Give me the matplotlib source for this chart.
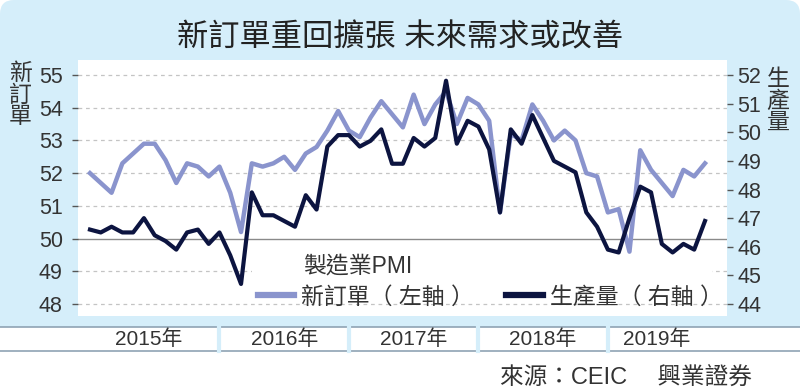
import matplotlib.pyplot as plt
import matplotlib.transforms as mtransforms
from matplotlib.patches import FancyBboxPatch, Rectangle
from matplotlib.lines import Line2D
import pandas as pd

plt.rcParams['font.family'] = ['Liberation Sans', 'Noto Sans CJK TC', 'DejaVu Sans']

# monthly data, Dec 2014 - Sep 2019
months = pd.date_range('2014-12-01', periods=58, freq='MS')
year_labels = ['2015年', '2016年', '2017年', '2018年', '2019年']

# light line, left axis
new_orders = [52.0,
              51.7, 51.4, 52.3, 52.6, 52.9, 52.9, 52.4, 51.7, 52.3, 52.2, 51.9, 52.2,
              51.4, 50.2, 52.3, 52.2, 52.3, 52.5, 52.1, 52.6, 52.8, 53.3, 53.9, 53.3,
              53.1, 53.7, 54.2, 53.8, 53.4, 54.4, 53.5, 54.1, 54.5, 53.5, 54.3, 54.1,
              53.6, 50.8, 53.2, 53.0, 54.1, 53.6, 53.0, 53.3, 53.0, 52.0, 51.9, 50.8,
              50.9, 49.6, 52.7, 52.1, 51.7, 51.3, 52.1, 51.9, 52.3]

# dark line, right axis
production = [46.6,
              46.5, 46.7, 46.5, 46.5, 47.0, 46.4, 46.2, 45.9, 46.5, 46.6, 46.1, 46.5,
              45.7, 44.7, 47.9, 47.1, 47.1, 46.9, 46.7, 47.8, 47.3, 49.5, 49.9, 49.9,
              49.5, 49.7, 50.1, 48.9, 48.9, 49.8, 49.5, 49.8, 51.8, 49.6, 50.4, 50.2,
              49.4, 47.2, 50.1, 49.6, 50.6, 49.8, 49.0, 48.8, 48.6, 47.2, 46.7, 45.9,
              45.8, 47.0, 48.1, 47.9, 46.1, 45.8, 46.1, 45.9, 46.9]

left_ticks = [48, 49, 50, 51, 52, 53, 54, 55]
right_ticks = [44, 45, 46, 47, 48, 49, 50, 51, 52]

LIGHT = '#8a94cd'
DARK = '#0c1440'
BG = '#d5eefa'
TXT = '#333333'

W, H = 800, 390


def fx(px):
    return px / W


def fy(py):
    return 1 - py / H


fig = plt.figure(figsize=(8, 3.9), dpi=100)
fig.patch.set_facecolor('white')

# light blue panel with rounded top
fig.patches.append(FancyBboxPatch((0, (H - 345) / 100), 8, 3.45,
                                  boxstyle='round,pad=0,rounding_size=0.14',
                                  transform=fig.dpi_scale_trans,
                                  facecolor=BG, edgecolor='none', zorder=-2))
# year band
fig.patches.append(Rectangle((0, fy(351)), 1, (351 - 327) / H, transform=fig.transFigure,
                             facecolor='white', edgecolor='none', zorder=-1))
for yy in (327, 351):
    fig.lines.append(Line2D([0, 1], [fy(yy), fy(yy)], transform=fig.transFigure,
                            color='#8fa3b4', lw=1.2, zorder=1))

ax = fig.add_axes([fx(78), fy(316), fx(727) - fx(78), (316 - 60) / H])
ax.set_zorder(2)
ax.set_facecolor('white')
x = list(range(len(months)))
ax.set_xlim(-1.11, 59.04)
ax.set_ylim(47.633, 55.459)

for v in left_ticks:
    if v == 50:
        ax.axhline(v, color='#8a8a8a', lw=1.0, zorder=1)
    else:
        ax.axhline(v, color='#c4c4c4', lw=0.9, ls=(0, (3, 3)), zorder=1)

ax.plot(x, new_orders, color=LIGHT, lw=3.2, zorder=3)

ax2 = ax.twinx()
ax2.set_zorder(3)
ax2.set_ylim(43.581, 52.524)
ax2.plot(x, production, color=DARK, lw=3.0, zorder=3)

for a in (ax, ax2):
    for s in a.spines.values():
        s.set_visible(False)
    a.set_xticks([])

ax.set_yticks(left_ticks)
ax.tick_params(axis='y', direction='out', length=4, width=1, color='#555555',
               pad=7, labelsize=15.5, labelcolor=TXT)
ax2.set_yticks(right_ticks)
ax2.tick_params(axis='y', direction='out', length=4, width=1, color='#555555',
                pad=3.5, labelsize=15.5, labelcolor=TXT)

# year separators and labels
blend = mtransforms.blended_transform_factory(ax.transData, fig.transFigure)
seps = [i for i, m in enumerate(months) if m.month == 12 and i > 0]
for s in seps:
    fig.lines.append(Line2D([s, s], [fy(351), fy(327)], transform=blend,
                            color=BG, lw=3, zorder=2))
edges = [ax.get_xlim()[0]] + seps + [len(months) - 1]
for k, lab in enumerate(year_labels):
    cx = (edges[k] + edges[k + 1]) / 2
    fig.text(cx, fy(339), lab, transform=blend, ha='center', va='center',
             fontsize=15, color=TXT)

# legend
ax.add_patch(Rectangle((fx(252), fy(300)), fx(712) - fx(252), (300 - 254) / H,
                       transform=fig.transFigure, facecolor='white',
                       edgecolor='none', zorder=1.5))
handles = [Line2D([], [], color=LIGHT, lw=4.5), Line2D([], [], color=DARK, lw=4.5)]
leg = ax2.legend(handles, ['新訂單（ 左軸 ）', '生產量（ 右軸 ）'], ncol=2,
                 loc='center left', bbox_to_anchor=(fx(252), fy(297)),
                 bbox_transform=fig.transFigure, borderaxespad=0, borderpad=0.25,
                 fontsize=16.5, handlelength=1.6, handletextpad=0.3,
                 columnspacing=1.4, frameon=False)
for t in leg.get_texts():
    t.set_color(TXT)
ax2.text(fx(303), fy(266), '製造業PMI', transform=fig.transFigure, ha='left',
         va='center', fontsize=16.5, color=TXT)

# axis titles
fig.text(fx(20), fy(95), '新\n訂\n單', ha='center', va='center', fontsize=16.5,
         linespacing=0.92, color=TXT)
fig.text(fx(778), fy(101), '生\n產\n量', ha='center', va='center', fontsize=16.5,
         linespacing=0.92, color=TXT)

fig.text(0.5, fy(38), '新訂單重回擴張 未來需求或改善', ha='center', va='center',
         fontsize=22.5, color='#222222')
fig.text(fx(752), fy(378), '來源：CEIC　 興業證券', ha='right', va='center',
         fontsize=17, color=TXT)

fig.savefig('out.png', dpi=100)
